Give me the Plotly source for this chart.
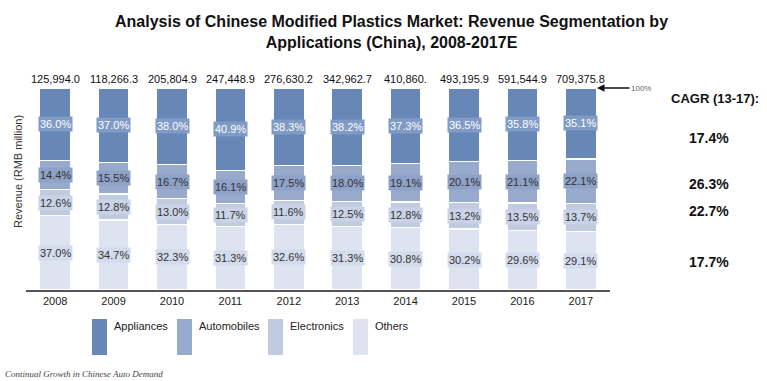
import plotly.graph_objects as go

years = ["2008", "2009", "2010", "2011", "2012", "2013", "2014", "2015", "2016", "2017"]
appliances = [36.0, 37.0, 38.0, 40.9, 38.3, 38.2, 37.3, 36.5, 35.8, 35.1]
automobiles = [14.4, 15.5, 16.7, 16.1, 17.5, 18.0, 19.1, 20.1, 21.1, 22.1]
electronics = [12.6, 12.8, 13.0, 11.7, 11.6, 12.5, 12.8, 13.2, 13.5, 13.7]
others = [37.0, 34.7, 32.3, 31.3, 32.6, 31.3, 30.8, 30.2, 29.6, 29.1]
total_labels = ["125,994.0", "118,266.3", "205,804.9", "247,448.9", "276,630.2",
                "342,962.7", "410,860.", "493,195.9", "591,544.9", "709,375.8"]
series_names = ["Appliances", "Automobiles", "Electronics", "Others"]
cagr_values = ["17.4%", "26.3%", "22.7%", "17.7%"]

colors = {"Appliances": "#6787B7", "Automobiles": "#98AACC",
          "Electronics": "#C0CBE0", "Others": "#DDE3F0"}
label_bg = {"Appliances": "#7F9BC6", "Automobiles": "#8EA1C7",
            "Electronics": "#C9D2E6", "Others": "#D4DBEC"}
label_fc = {"Appliances": "#FFFFFF", "Automobiles": "#333333",
            "Electronics": "#333333", "Others": "#333333"}

W, H = 767, 381
L, R, T, B = 26, 157, 88, 91
PW, PH = W - L - R, H - T - B


def px(x):
    return (x - L) / PW


def py(y):
    return (H - B - y) / PH


xpos = list(range(len(years)))

fig = go.Figure()
stack_order = [("Others", others), ("Electronics", electronics),
               ("Automobiles", automobiles), ("Appliances", appliances)]
for name, vals in stack_order:
    fig.add_trace(go.Bar(x=xpos, y=vals, name=name, width=0.53,
                         marker=dict(color=colors[name], line=dict(color="white", width=1.2)),
                         showlegend=False, hoverinfo="y+name"))

annotations = []
for i in xpos:
    base = 0.0
    for name, vals in stack_order:
        v = vals[i]
        annotations.append(dict(x=i, y=base + v / 2, xref="x", yref="y",
                                text=f"{v:.1f}%", showarrow=False,
                                xanchor="center", yanchor="middle",
                                font=dict(family="Arial, Liberation Sans", size=11,
                                          color=label_fc[name]),
                                bgcolor=label_bg[name], borderpad=1))
        base += v
    annotations.append(dict(x=i, y=base, xref="x", yref="y", text=total_labels[i],
                            showarrow=False, xanchor="center", yanchor="bottom", yshift=1,
                            font=dict(family="Arial, Liberation Sans", size=11, color="#111")))

annotations.append(dict(x=px(391), y=py(32), xref="paper", yref="paper",
                        text="<b>Analysis of Chinese Modified Plastics Market: Revenue Segmentation by<br>Applications (China), 2008-2017E</b>",
                        showarrow=False, align="center", xanchor="center", yanchor="middle",
                        font=dict(family="Arial, Liberation Sans", size=16, color="#111")))
annotations.append(dict(x=px(18), y=py(172), xref="paper", yref="paper",
                        text="Revenue (RMB million)", textangle=-90, showarrow=False,
                        xanchor="center", yanchor="middle",
                        font=dict(family="Arial, Liberation Sans", size=11, color="#333")))
annotations.append(dict(x=px(597), y=py(88), xref="paper", yref="paper",
                        text="100%", showarrow=True, ax=44, ay=0,
                        arrowhead=2, arrowsize=1, arrowwidth=1.5, arrowcolor="#111",
                        standoff=0,
                        font=dict(family="Arial, Liberation Sans", size=8, color="#666")))
annotations.append(dict(x=px(715), y=py(98), xref="paper", yref="paper",
                        text="<b>CAGR (13-17):</b>", showarrow=False,
                        xanchor="center", yanchor="middle",
                        font=dict(family="Arial, Liberation Sans", size=13, color="#111")))
for val, ypix in zip(cagr_values, [138, 184, 211, 262]):
    annotations.append(dict(x=px(709), y=py(ypix), xref="paper", yref="paper",
                            text=f"<b>{val}</b>", showarrow=False,
                            xanchor="center", yanchor="middle",
                            font=dict(family="Arial, Liberation Sans", size=14, color="#111")))

shapes = []
leg_x = [92, 177, 268, 353]
for name, lx in zip(series_names, leg_x):
    shapes.append(dict(type="rect", xref="paper", yref="paper",
                       x0=px(lx), x1=px(lx + 15), y0=py(355), y1=py(319),
                       fillcolor=colors[name], line=dict(width=0)))
    annotations.append(dict(x=px(lx + 20), y=py(326), xref="paper", yref="paper",
                            text=name, showarrow=False, xanchor="left", yanchor="middle",
                            font=dict(family="Arial, Liberation Sans", size=11, color="#222")))

annotations.append(dict(x=px(3), y=py(374), xref="paper", yref="paper",
                        text="Continual Growth in Chinese Auto Demand", showarrow=False,
                        xanchor="left", yanchor="middle",
                        font=dict(family="Liberation Serif, DejaVu Serif", size=9, color="#444",
                                  style="italic")))

fig.update_layout(
    width=W, height=H, barmode="stack",
    margin=dict(l=L, r=R, t=T, b=B),
    paper_bgcolor="white", plot_bgcolor="white",
    annotations=annotations, shapes=shapes, showlegend=False,
    xaxis=dict(type="linear", range=[-0.5, len(years) - 0.5], autorange=False,
               tickmode="array", tickvals=xpos, ticktext=years,
               showline=True, linecolor="#555", linewidth=2, ticks="",
               tickfont=dict(family="Arial, Liberation Sans", size=11, color="#222"),
               showgrid=False, zeroline=False, fixedrange=True),
    yaxis=dict(range=[0, 100], autorange=False, visible=False, showgrid=False,
               fixedrange=True),
)

fig.write_html("out.html")
